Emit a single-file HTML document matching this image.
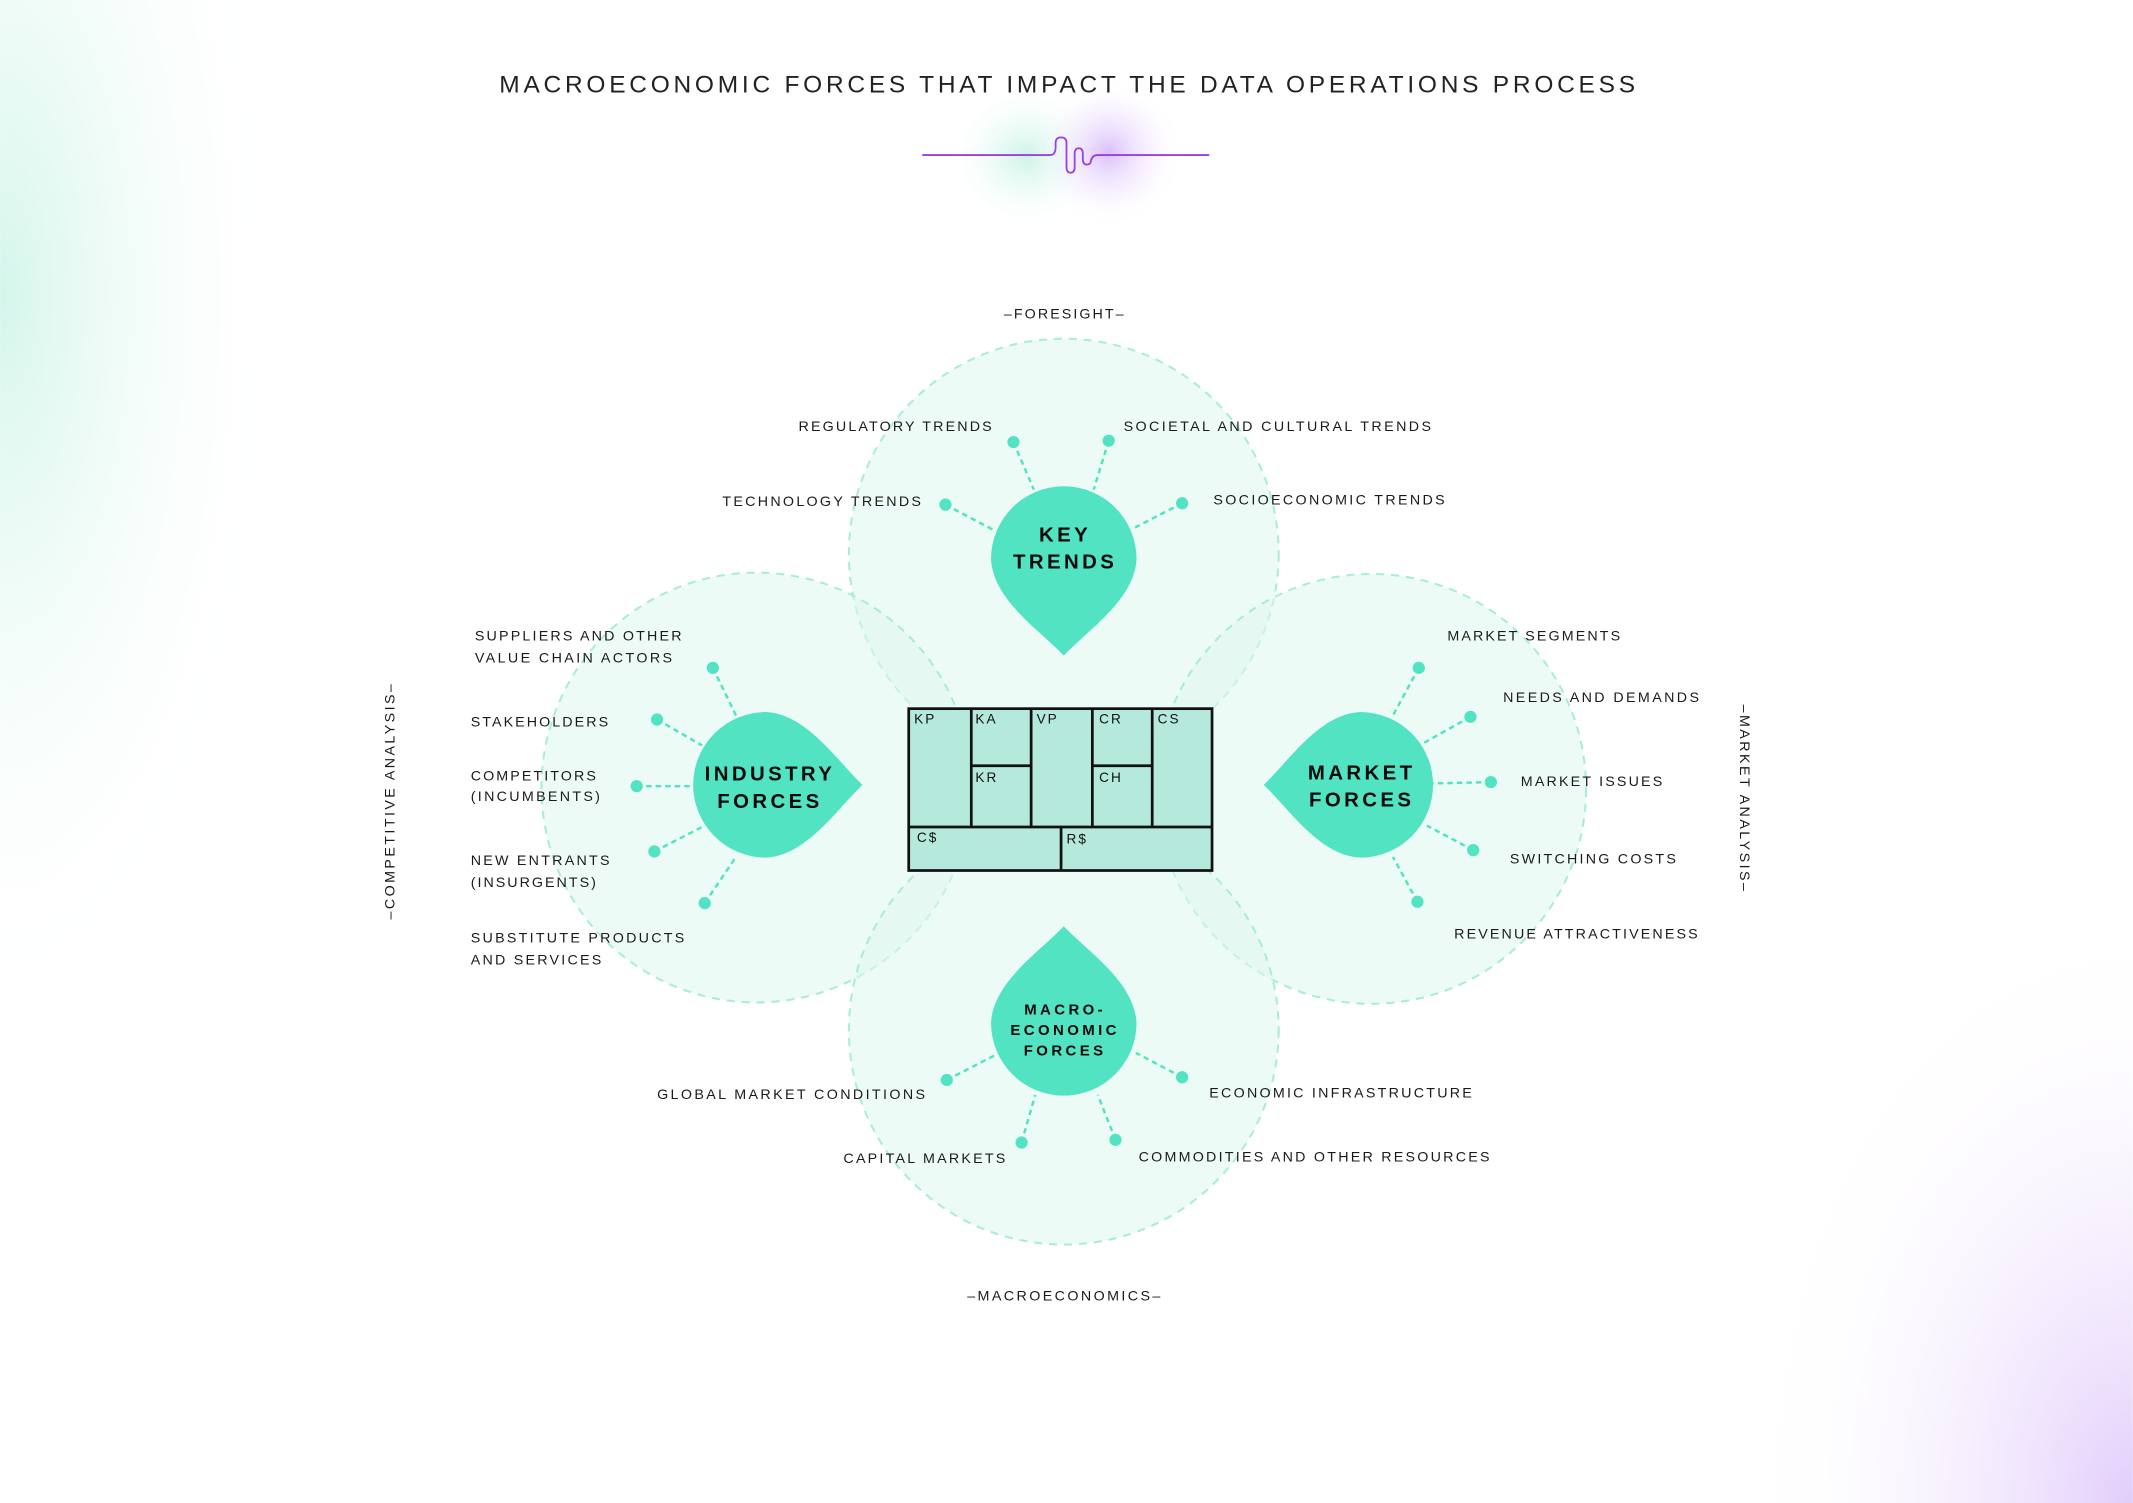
<!DOCTYPE html>
<html><head><meta charset="utf-8"><style>
html,body{margin:0;padding:0;background:#fff;}
svg{display:block;}
text{font-family:"Liberation Sans",sans-serif;fill:#1a1a1a;}
.l{font-size:10.5px;}
.b{font-size:15px;font-weight:bold;fill:#0a0a0a;}
.m{font-size:11px;font-weight:bold;fill:#0a0a0a;}
.c{font-size:10px;fill:#111;}
</style></head><body>
<svg width="2133" height="1503" viewBox="0 0 1568 1105" xmlns="http://www.w3.org/2000/svg">
<defs>
<radialGradient id="tl" cx="0" cy="0.3" r="0.75">
<stop offset="0" stop-color="#cdf4e8" stop-opacity="0.85"/><stop offset="0.5" stop-color="#e8faf4" stop-opacity="0.5"/><stop offset="1" stop-color="#ffffff" stop-opacity="0"/></radialGradient>
<radialGradient id="br" cx="1" cy="1" r="0.9">
<stop offset="0" stop-color="#e2cdfb"/><stop offset="1" stop-color="#ffffff" stop-opacity="0"/></radialGradient>
<radialGradient id="g1"><stop offset="0" stop-color="#bff1e2" stop-opacity="0.8"/><stop offset="1" stop-color="#fff" stop-opacity="0"/></radialGradient>
<radialGradient id="g2"><stop offset="0" stop-color="#d6b8fb" stop-opacity="0.9"/><stop offset="1" stop-color="#fff" stop-opacity="0"/></radialGradient>
<path id="drop" d="M0,71 C18,52 52,30 53.5,0 A53.5 53.5 0 0 0 -53.5,0 C-52,30 -18,52 0,71 Z" fill="#52e3c2"/>
</defs>
<rect width="1568" height="1105" fill="#fff"/>
<rect x="0" y="0" width="280" height="720" fill="url(#tl)"/>
<rect x="1250" y="620" width="318" height="485" fill="url(#br)"/>
<ellipse cx="755" cy="115" rx="60" ry="55" fill="url(#g1)"/>
<ellipse cx="815" cy="112" rx="55" ry="55" fill="url(#g2)"/>
<text x="367" y="68" textLength="835" lengthAdjust="spacing" style="font-size:18px;fill:#222">MACROECONOMIC FORCES THAT IMPACT THE DATA OPERATIONS PROCESS</text>
<path d="M678,114 H772 q4,0 4,-6 v-3 q0,-4 4,-4 q4,0 4,4 v18 q0,4 3,4 q3,0 3,-4 v-10 q0,-4 3,-4 q3,0 3,4 v4 q0,4 3,4 q3,0 3,-3 q1,-4 5,-4 H889" fill="none" stroke="#9a3ee8" stroke-width="1.3"/>
<g fill="#dff7ef" fill-opacity="0.55" stroke="#a9ecd9" stroke-width="1.5" stroke-dasharray="6,5">
<circle cx="782" cy="407" r="158"/>
<circle cx="556" cy="579" r="158"/>
<circle cx="1008" cy="580" r="158"/>
<circle cx="782" cy="757" r="158"/>
</g>
<g stroke="#52e3c2" stroke-width="1.8" stroke-dasharray="4,3" fill="none">
<line x1="745" y1="325" x2="760" y2="360"/><line x1="815" y1="324" x2="804" y2="360"/>
<line x1="695" y1="371" x2="731" y2="390"/><line x1="869" y1="370" x2="834" y2="388"/>
<line x1="524" y1="491" x2="541" y2="526"/><line x1="483" y1="529" x2="516" y2="548"/>
<line x1="468" y1="578" x2="510" y2="578"/><line x1="481" y1="626" x2="516" y2="608"/>
<line x1="518" y1="664" x2="541" y2="630"/>
<line x1="1043" y1="491" x2="1024" y2="526"/><line x1="1081" y1="527" x2="1047" y2="546"/>
<line x1="1096" y1="575" x2="1053" y2="576"/><line x1="1083" y1="625" x2="1049" y2="607"/>
<line x1="1042" y1="663" x2="1024" y2="630"/>
<line x1="696" y1="794" x2="731" y2="776"/><line x1="751" y1="840" x2="761" y2="805"/>
<line x1="820" y1="838" x2="807" y2="805"/><line x1="869" y1="792" x2="835" y2="774"/>
</g>
<g fill="#52e3c2">
<circle cx="745" cy="325" r="4.5"/><circle cx="815" cy="324" r="4.5"/><circle cx="695" cy="371" r="4.5"/><circle cx="869" cy="370" r="4.5"/>
<circle cx="524" cy="491" r="4.5"/><circle cx="483" cy="529" r="4.5"/><circle cx="468" cy="578" r="4.5"/><circle cx="481" cy="626" r="4.5"/><circle cx="518" cy="664" r="4.5"/>
<circle cx="1043" cy="491" r="4.5"/><circle cx="1081" cy="527" r="4.5"/><circle cx="1096" cy="575" r="4.5"/><circle cx="1083" cy="625" r="4.5"/><circle cx="1042" cy="663" r="4.5"/>
<circle cx="696" cy="794" r="4.5"/><circle cx="751" cy="840" r="4.5"/><circle cx="820" cy="838" r="4.5"/><circle cx="869" cy="792" r="4.5"/>
</g>
<use href="#drop" transform="translate(782,411)"/>
<use href="#drop" transform="translate(563,577) rotate(-90)"/>
<use href="#drop" transform="translate(1000,577) rotate(90)"/>
<use href="#drop" transform="translate(782,752) rotate(180)"/>
<g class="b" text-anchor="middle" style="letter-spacing:2.5px">
<text x="783" y="398" class="b">KEY</text><text x="783" y="418" class="b">TRENDS</text>
<text x="566" y="574" class="b">INDUSTRY</text><text x="566" y="594" class="b">FORCES</text>
<text x="1001" y="573" class="b">MARKET</text><text x="1001" y="593" class="b">FORCES</text>
<text x="783" y="746" class="m">MACRO-</text><text x="783" y="761" class="m">ECONOMIC</text><text x="783" y="776" class="m">FORCES</text>
</g>
<g fill="#b4e9dc" stroke="#111" stroke-width="2">
<rect x="668" y="521" width="223" height="119"/>
</g>
<g stroke="#111" stroke-width="2">
<line x1="714" y1="521" x2="714" y2="608"/><line x1="758" y1="521" x2="758" y2="608"/>
<line x1="803" y1="521" x2="803" y2="608"/><line x1="847" y1="521" x2="847" y2="608"/>
<line x1="714" y1="563" x2="758" y2="563"/><line x1="803" y1="563" x2="847" y2="563"/>
<line x1="668" y1="608" x2="891" y2="608"/><line x1="780" y1="608" x2="780" y2="640"/>
</g>
<g class="c" style="letter-spacing:1.5px">
<text x="672" y="532" class="c">KP</text><text x="717" y="532" class="c">KA</text><text x="762" y="532" class="c">VP</text>
<text x="808" y="532" class="c">CR</text><text x="851" y="532" class="c">CS</text>
<text x="717" y="575" class="c">KR</text><text x="808" y="575" class="c">CH</text>
<text x="674" y="619" class="c">C$</text><text x="784" y="620" class="c">R$</text>
</g>
<g class="l">
<text class="l" x="738" y="234" textLength="88" lengthAdjust="spacing">–FORESIGHT–</text>
<text class="l" x="587" y="317" textLength="142" lengthAdjust="spacing">REGULATORY TRENDS</text>
<text class="l" x="826" y="317" textLength="226" lengthAdjust="spacing">SOCIETAL AND CULTURAL TRENDS</text>
<text class="l" x="531" y="372" textLength="146" lengthAdjust="spacing">TECHNOLOGY TRENDS</text>
<text class="l" x="892" y="371" textLength="170" lengthAdjust="spacing">SOCIOECONOMIC TRENDS</text>
<text class="l" x="349" y="471" textLength="152" lengthAdjust="spacing">SUPPLIERS AND OTHER</text>
<text class="l" x="349" y="487" textLength="145" lengthAdjust="spacing">VALUE CHAIN ACTORS</text>
<text class="l" x="346" y="534" textLength="101" lengthAdjust="spacing">STAKEHOLDERS</text>
<text class="l" x="346" y="574" textLength="92" lengthAdjust="spacing">COMPETITORS</text>
<text class="l" x="346" y="589" textLength="95" lengthAdjust="spacing">(INCUMBENTS)</text>
<text class="l" x="346" y="636" textLength="102" lengthAdjust="spacing">NEW ENTRANTS</text>
<text class="l" x="346" y="652" textLength="92" lengthAdjust="spacing">(INSURGENTS)</text>
<text class="l" x="346" y="693" textLength="157" lengthAdjust="spacing">SUBSTITUTE PRODUCTS</text>
<text class="l" x="346" y="709" textLength="96" lengthAdjust="spacing">AND SERVICES</text>
<text class="l" x="1064" y="471" textLength="127" lengthAdjust="spacing">MARKET SEGMENTS</text>
<text class="l" x="1105" y="516" textLength="144" lengthAdjust="spacing">NEEDS AND DEMANDS</text>
<text class="l" x="1118" y="578" textLength="104" lengthAdjust="spacing">MARKET ISSUES</text>
<text class="l" x="1110" y="635" textLength="122" lengthAdjust="spacing">SWITCHING COSTS</text>
<text class="l" x="1069" y="690" textLength="179" lengthAdjust="spacing">REVENUE ATTRACTIVENESS</text>
<text class="l" x="483" y="808" textLength="197" lengthAdjust="spacing">GLOBAL MARKET CONDITIONS</text>
<text class="l" x="889" y="807" textLength="193" lengthAdjust="spacing">ECONOMIC INFRASTRUCTURE</text>
<text class="l" x="620" y="855" textLength="119" lengthAdjust="spacing">CAPITAL MARKETS</text>
<text class="l" x="837" y="854" textLength="258" lengthAdjust="spacing">COMMODITIES AND OTHER RESOURCES</text>
<text class="l" x="711" y="956" textLength="142" lengthAdjust="spacing">–MACROECONOMICS–</text>
<text class="l" transform="translate(290,676) rotate(-90)" textLength="173" lengthAdjust="spacing">–COMPETITIVE ANALYSIS–</text>
<text class="l" transform="translate(1279,518) rotate(90)" textLength="137" lengthAdjust="spacing">–MARKET ANALYSIS–</text>
</g>
</svg>
</body></html>
